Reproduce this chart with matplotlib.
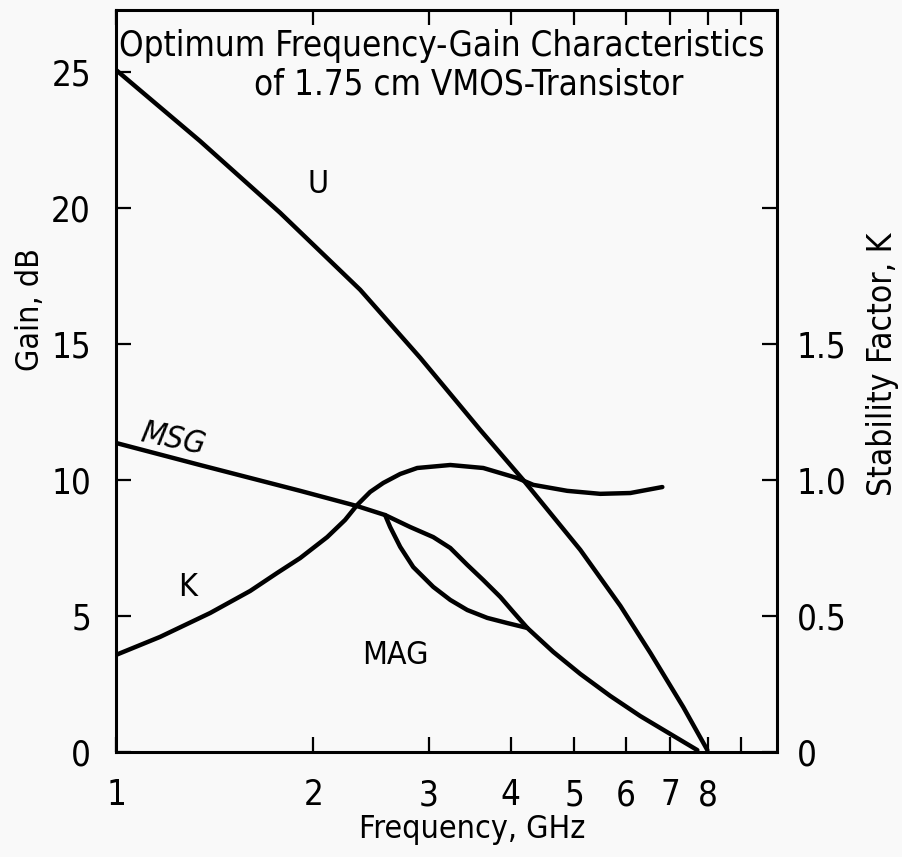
import matplotlib
matplotlib.use('Agg')
import matplotlib.pyplot as plt
from matplotlib.ticker import FixedLocator, NullLocator

# the scan uses a narrow face; ask for the condensed DejaVu cut if there is one
plt.rcParams['font.family'] = ['DejaVu Sans']
plt.rcParams['font.stretch'] = 'condensed'

# U curve (dB)
u_freq = [1.0, 1.343, 1.780, 2.358, 2.912, 3.595, 4.182, 5.110, 5.883, 6.537, 7.338, 7.986]
u_gain = [25.07, 22.46, 19.82, 16.99, 14.49, 11.84, 10.0, 7.43, 5.37, 3.64, 1.65, 0.07]

# MSG curve (dB)
msg_freq = [1.0, 1.343, 1.910, 2.333, 2.574, 2.811, 3.048, 3.236, 3.435, 3.634, 3.858, 4.037, 4.242]
msg_gain = [11.36, 10.55, 9.60, 9.04, 8.71, 8.27, 7.90, 7.50, 6.88, 6.32, 5.70, 5.15, 4.56]

# MAG curve (dB)
mag_freq = [2.574, 2.620, 2.714, 2.841, 3.048, 3.236, 3.435, 3.685, 3.954, 4.242,
            4.647, 5.110, 5.678, 6.310, 7.013, 7.709]
mag_gain = [8.71, 8.27, 7.54, 6.80, 6.07, 5.59, 5.22, 4.93, 4.74, 4.56,
            3.68, 2.87, 2.06, 1.32, 0.66, 0.07]

# stability factor K
k_freq = [1.0, 1.167, 1.392, 1.602, 1.761, 1.910, 2.100, 2.236, 2.333, 2.442, 2.557,
          2.714, 2.881, 3.236, 3.634, 4.095, 4.332, 4.881, 5.482, 6.091, 6.817]
k_val = [0.357, 0.423, 0.511, 0.592, 0.658, 0.713, 0.790, 0.853, 0.908, 0.956, 0.989,
         1.022, 1.044, 1.055, 1.044, 1.007, 0.982, 0.960, 0.949, 0.952, 0.974]

x_ticks = [1, 2, 3, 4, 5, 6, 7, 8, 9]
x_labels = ['1', '2', '3', '4', '5', '6', '7', '8', '']
gain_ticks = [0, 5, 10, 15, 20, 25]
k_ticks = [0, 0.5, 1.0, 1.5, 2.0]
k_labels = ['0', '0.5', '1.0', '1.5', '']

bg = '#f9f9f9'
fig = plt.figure(figsize=(9.03, 8.57), dpi=100, facecolor=bg)
ax = fig.add_axes([0.1285, 0.1225, 0.732, 0.866])
ax.set_facecolor(bg)

lw = 3.2
for xs, ys in [(u_freq, u_gain), (msg_freq, msg_gain), (mag_freq, mag_gain)]:
    ax.plot(xs, ys, color='black', lw=lw, solid_capstyle='round', solid_joinstyle='round')

ax.set_xscale('log')
ax.set_xlim(1, 10.2)
ymax = 27.28
ax.set_ylim(0, ymax)

ax.xaxis.set_major_locator(FixedLocator(x_ticks))
ax.xaxis.set_minor_locator(NullLocator())
ax.set_xticklabels(x_labels)
ax.set_yticks(gain_ticks)

for s in ax.spines.values():
    s.set_linewidth(2.2)

ax.tick_params(axis='both', direction='in', length=11, width=1.6, labelsize=25)
ax.tick_params(axis='x', top=True, pad=19)
ax.tick_params(axis='y', pad=18)

ax2 = ax.twinx()
ax2.plot(k_freq, k_val, color='black', lw=lw, solid_capstyle='round', solid_joinstyle='round')
ax2.set_ylim(0, ymax / 10)
ax2.set_yticks(k_ticks)
ax2.set_yticklabels(k_labels)
ax2.tick_params(axis='y', direction='in', length=11, width=1.6, labelsize=25, pad=14)

ax.set_xlabel('Frequency, GHz', fontsize=23, va='center')
ax.xaxis.set_label_coords(0.539, -0.105)
ax.set_ylabel('Gain, dB', fontsize=23, va='center', ha='center')
ax.yaxis.set_label_coords(-0.129, 0.596)
ax2.set_ylabel('Stability Factor, K', fontsize=24, va='center', ha='center')
ax2.yaxis.set_label_coords(1.159, 0.522)

ax.text(1.01, 25.95, 'Optimum Frequency-Gain Characteristics', fontsize=25, va='center', ha='left')
ax.text(3.45, 24.55, 'of 1.75 cm VMOS-Transistor', fontsize=25, va='center', ha='center')

ax.text(2.035, 20.85, 'U', fontsize=23, ha='center', va='center')
ax.text(1.22, 11.47, 'MSG', fontsize=23, style='italic', rotation=-12, ha='center', va='center')
ax.text(1.288, 6.03, 'K', fontsize=23, ha='center', va='center')
ax.text(2.667, 3.53, 'MAG', fontsize=23, ha='center', va='center')

plt.savefig('out.png', dpi=100, facecolor=bg)
